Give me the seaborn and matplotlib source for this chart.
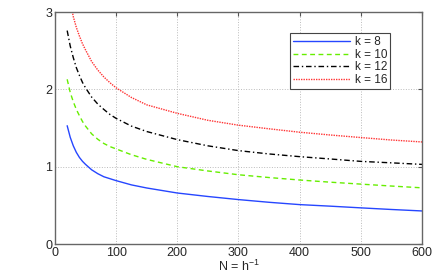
import numpy as np
import pandas as pd
import matplotlib
matplotlib.use("Agg")
import matplotlib.pyplot as plt
import seaborn as sns


N_VALUES = [20, 25, 30, 35, 40, 45, 50, 60, 70, 80, 90, 100, 125, 150, 200, 250, 300, 350, 400, 450, 500,
            550, 600]

K8 = [1.53, 1.38, 1.27, 1.185, 1.12, 1.07, 1.03, 0.96, 0.91, 0.87, 0.845, 0.82, 0.765, 0.725, 0.66, 0.615,
      0.575, 0.54, 0.51, 0.49, 0.468, 0.447, 0.428]
K10 = [2.13, 1.96, 1.84, 1.74, 1.66, 1.585, 1.525, 1.425, 1.355, 1.30, 1.26, 1.23, 1.155, 1.095, 1.00,
       0.945, 0.896, 0.86, 0.828, 0.80, 0.775, 0.75, 0.727]
K12 = [2.76, 2.56, 2.41, 2.28, 2.18, 2.09, 2.02, 1.90, 1.81, 1.74, 1.675, 1.625, 1.525, 1.455, 1.35, 1.27,
       1.208, 1.165, 1.13, 1.10, 1.069, 1.05, 1.03]
K16 = [3.40, 3.13, 2.94, 2.80, 2.69, 2.59, 2.51, 2.36, 2.25, 2.16, 2.085, 2.02, 1.895, 1.80, 1.69, 1.60,
       1.537, 1.49, 1.446, 1.41, 1.377, 1.345, 1.32]

SERIES_LABELS = ["k = 8", "k = 10", "k = 12", "k = 16"]
X_TICKS = [0, 100, 200, 300, 400, 500, 600]
Y_TICKS = [0, 1, 2, 3]


def main() -> None:
    sns.set_style("white")
    plt.rcParams["font.family"] = ["Liberation Sans", "DejaVu Sans"]
    plt.rcParams["mathtext.fontset"] = "custom"
    plt.rcParams["mathtext.rm"] = "Liberation Sans"
    plt.rcParams["mathtext.it"] = "Liberation Sans"

    fig = plt.figure(figsize=(4.36, 2.73), dpi=100)
    ax = fig.add_axes([0.126, 0.106, 0.842, 0.850])

    styles = [
        ("#2646ff", (None, None)),
        ("#66ee00", (3.5, 2.5)),
        ("black", (4, 2, 1, 2)),
        ("#ff3333", (1, 0.8)),
    ]
    for values, label, (color, dashes) in zip([K8, K10, K12, K16], SERIES_LABELS, styles):
        df = pd.DataFrame({"N": N_VALUES, "val": values})
        line = sns.lineplot(data=df, x="N", y="val", ax=ax, color=color, linewidth=1.0, label=label)
        if dashes[0] is not None:
            line.lines[-1].set_dashes(dashes)

    ax.set_xlim(0, 600)
    ax.set_ylim(0, 3)
    ax.set_xticks(X_TICKS)
    ax.set_yticks(Y_TICKS)
    ax.grid(True, linestyle=":", color="#bbbbbb", linewidth=0.7)
    ax.tick_params(direction="in", top=True, right=True, labelsize=9, length=3,
                   color="#555555", pad=2)
    for spine in ax.spines.values():
        spine.set_color("#666666")
        spine.set_linewidth(1.0)
    ax.set_xlabel(r"N = h$^{-1}$", fontsize=9, labelpad=0)
    ax.set_ylabel("")

    leg = ax.legend(loc="upper right", bbox_to_anchor=(0.913, 0.909), borderaxespad=0,
                    fancybox=False, edgecolor="#444444", framealpha=1, fontsize=8.5,
                    handlelength=4.8, handletextpad=0.4, labelspacing=0.05, borderpad=0.25)
    leg.get_frame().set_linewidth(0.8)

    fig.savefig("out.png", dpi=100)
    plt.close(fig)


if __name__ == "__main__":
    main()
